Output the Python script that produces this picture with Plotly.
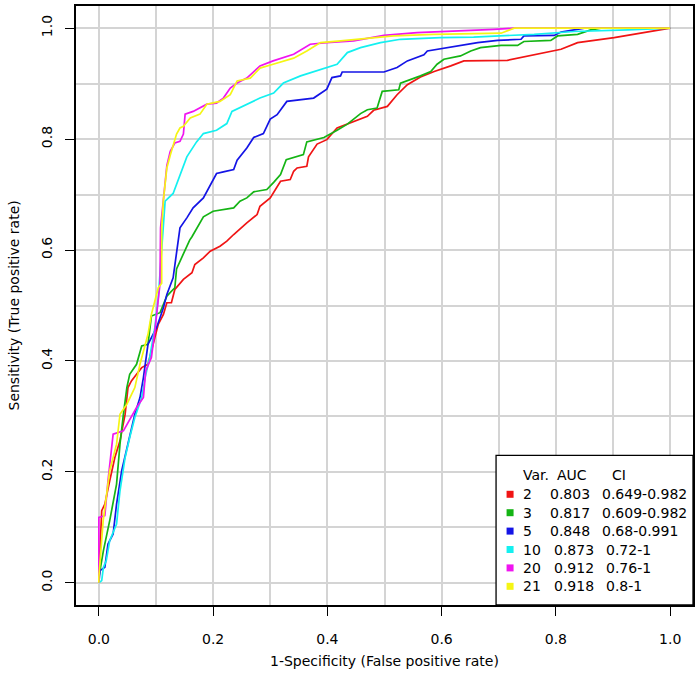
import plotly.graph_objects as go

# ---------------- data ----------------
fpr_2 = [0, 0, 0.005, 0.0105, 0.019, 0.028, 0.037, 0.046, 0.051, 0.057, 0.066, 0.075, 0.086, 0.095,
         0.104, 0.113, 0.119, 0.127, 0.133, 0.148, 0.163, 0.168, 0.183, 0.195, 0.212, 0.224, 0.236,
         0.259, 0.277, 0.282, 0.300, 0.318, 0.335, 0.341, 0.347, 0.364, 0.367, 0.382, 0.399, 0.417,
         0.440, 0.470, 0.481, 0.505, 0.522, 0.540, 0.563, 0.587, 0.616, 0.639, 0.715, 0.762, 0.809,
         0.838, 0.902, 1.0]
tpr_2 = [0, 0.01, 0.130, 0.142, 0.184, 0.226, 0.256, 0.304, 0.352, 0.364, 0.376, 0.388, 0.394, 0.430,
         0.466, 0.484, 0.505, 0.505, 0.529, 0.547, 0.559, 0.574, 0.586, 0.598, 0.607, 0.616, 0.628,
         0.649, 0.664, 0.679, 0.694, 0.724, 0.727, 0.742, 0.748, 0.751, 0.768, 0.791, 0.799, 0.820,
         0.829, 0.841, 0.852, 0.859, 0.880, 0.898, 0.912, 0.922, 0.932, 0.941, 0.942, 0.952, 0.962,
         0.974, 0.983, 1.0]

fpr_3 = [0, 0, 0.008, 0.019, 0.031, 0.037, 0.043, 0.049, 0.054, 0.066, 0.075, 0.086, 0.092, 0.107,
         0.119, 0.133, 0.136, 0.148, 0.159, 0.163, 0.183, 0.200, 0.236, 0.247, 0.259, 0.271, 0.294,
         0.306, 0.318, 0.328, 0.358, 0.364, 0.394, 0.417, 0.435, 0.458, 0.470, 0.487, 0.496, 0.525,
         0.528, 0.563, 0.581, 0.592, 0.604, 0.633, 0.651, 0.668, 0.704, 0.733, 0.744, 0.791, 0.803,
         0.838, 0.861, 0.879, 1.0]
tpr_3 = [0, 0.01, 0.058, 0.112, 0.178, 0.250, 0.304, 0.352, 0.376, 0.394, 0.427, 0.430, 0.481, 0.487,
         0.517, 0.532, 0.566, 0.594, 0.618, 0.624, 0.660, 0.670, 0.676, 0.688, 0.694, 0.705, 0.709,
         0.722, 0.736, 0.763, 0.772, 0.795, 0.803, 0.816, 0.827, 0.846, 0.853, 0.856, 0.886, 0.889,
         0.901, 0.914, 0.922, 0.935, 0.944, 0.950, 0.959, 0.965, 0.969, 0.969, 0.976, 0.978, 0.986,
         0.989, 0.997, 1.0, 1.0]

fpr_5 = [0, 0.002, 0.0105, 0.016, 0.025, 0.031, 0.040, 0.049, 0.057, 0.063, 0.072, 0.078, 0.086, 0.101,
         0.113, 0.119, 0.130, 0.136, 0.142, 0.154, 0.165, 0.183, 0.195, 0.206, 0.218, 0.236, 0.242,
         0.259, 0.271, 0.288, 0.300, 0.312, 0.329, 0.353, 0.376, 0.399, 0.408, 0.423, 0.426, 0.499,
         0.522, 0.540, 0.569, 0.575, 0.610, 0.633, 0.663, 0.698, 0.739, 0.744, 0.797, 0.809, 0.832,
         0.850, 1.0]
tpr_5 = [0, 0.022, 0.028, 0.070, 0.088, 0.142, 0.202, 0.244, 0.280, 0.304, 0.334, 0.370, 0.430, 0.460,
         0.496, 0.520, 0.550, 0.592, 0.640, 0.658, 0.676, 0.694, 0.716, 0.738, 0.741, 0.745, 0.762,
         0.784, 0.803, 0.810, 0.836, 0.844, 0.868, 0.871, 0.874, 0.890, 0.911, 0.914, 0.921, 0.921,
         0.929, 0.941, 0.952, 0.959, 0.965, 0.968, 0.974, 0.978, 0.980, 0.986, 0.987, 0.993, 0.997,
         1.0, 1.0]

fpr_10 = [0, 0.005, 0.008, 0.013, 0.019, 0.031, 0.037, 0.046, 0.054, 0.063, 0.075, 0.081, 0.089, 0.098,
          0.104, 0.110, 0.112, 0.116, 0.130, 0.139, 0.154, 0.171, 0.183, 0.206, 0.224, 0.233, 0.259,
          0.282, 0.306, 0.323, 0.353, 0.388, 0.417, 0.435, 0.458, 0.493, 0.528, 0.598, 0.656, 0.762,
          0.832, 0.926, 1.0]
tpr_10 = [0, 0.004, 0.028, 0.040, 0.076, 0.106, 0.166, 0.226, 0.262, 0.298, 0.334, 0.370, 0.406, 0.460,
          0.514, 0.604, 0.630, 0.688, 0.702, 0.728, 0.768, 0.795, 0.810, 0.816, 0.828, 0.850, 0.862,
          0.874, 0.883, 0.901, 0.914, 0.926, 0.935, 0.956, 0.965, 0.974, 0.980, 0.983, 0.984, 0.989,
          0.994, 0.997, 1.0]

fpr_20 = [0, 0, 0, 0.0105, 0.016, 0.025, 0.043, 0.066, 0.078, 0.082, 0.092, 0.098, 0.107, 0.108, 0.119,
          0.125, 0.133, 0.142, 0.148, 0.151, 0.165, 0.189, 0.206, 0.218, 0.230, 0.242, 0.259, 0.282,
          0.305, 0.341, 0.370, 0.399, 0.446, 0.499, 0.557, 0.692, 0.727, 1.0]
tpr_20 = [0, 0.004, 0.118, 0.121, 0.184, 0.268, 0.274, 0.316, 0.334, 0.382, 0.406, 0.454, 0.539, 0.640,
          0.752, 0.778, 0.793, 0.796, 0.809, 0.845, 0.850, 0.863, 0.865, 0.874, 0.892, 0.901, 0.910,
          0.932, 0.941, 0.953, 0.971, 0.974, 0.977, 0.987, 0.992, 0.998, 1.0, 1.0]

fpr_21 = [0, 0, 0.0076, 0.019, 0.031, 0.037, 0.049, 0.063, 0.072, 0.086, 0.092, 0.104, 0.110, 0.110,
          0.113, 0.119, 0.125, 0.136, 0.142, 0.148, 0.160, 0.177, 0.189, 0.212, 0.230, 0.242, 0.265,
          0.282, 0.305, 0.341, 0.364, 0.388, 0.423, 0.470, 0.516, 0.586, 0.704, 0.727, 1.0]
tpr_21 = [0, 0.01, 0.112, 0.202, 0.250, 0.304, 0.322, 0.352, 0.394, 0.448, 0.484, 0.532, 0.540, 0.640,
          0.690, 0.748, 0.771, 0.809, 0.820, 0.823, 0.838, 0.845, 0.863, 0.868, 0.880, 0.905, 0.910,
          0.928, 0.935, 0.946, 0.959, 0.974, 0.977, 0.981, 0.986, 0.989, 0.991, 1.0, 1.0]

var_labels = ["2", "3", "5", "10", "20", "21"]
auc_labels = ["0.803", "0.817", "0.848", "0.873", "0.912", "0.918"]
ci_labels = ["0.649-0.982", "0.609-0.982", "0.68-0.991", "0.72-1", "0.76-1", "0.8-1"]
header_labels = ["Var.", "AUC", "CI"]

x_title = "1-Specificity (False positive rate)"
y_title = "Sensitivity (True positive rate)"

# ---------------- styling ----------------
colors = ["#F01414", "#14B414", "#1414E6", "#14F0F0", "#F014F0", "#F5F514"]
series = [(fpr_2, tpr_2), (fpr_3, tpr_3), (fpr_5, tpr_5),
          (fpr_10, tpr_10), (fpr_20, tpr_20), (fpr_21, tpr_21)]
FONT = "DejaVu Sans, Liberation Sans, Arial, sans-serif"
FS = 14
GRID = "#D4D4D4"

fig = go.Figure()
for (fx, ty), c, lab in zip(series, colors, var_labels):
    fig.add_trace(go.Scatter(x=fx, y=ty, mode="lines", name=lab,
                             line=dict(color=c, width=1.7), hoverinfo="skip"))

axis_common = dict(
    range=[-0.04, 1.04], tick0=0, dtick=0.2, tickformat=".1f",
    ticks="outside", ticklen=9, tickwidth=1.3, tickcolor="black",
    showline=True, mirror=True, linecolor="black", linewidth=1.5,
    showgrid=True, gridcolor=GRID, gridwidth=1.5, zeroline=False,
    minor=dict(dtick=0.1, showgrid=True, gridcolor=GRID, gridwidth=1.5, ticks=""),
    tickfont=dict(family=FONT, size=FS, color="black"),
    automargin=False,
)

fig.update_layout(
    width=700, height=688,
    margin=dict(l=76, r=7, t=6, b=83),
    paper_bgcolor="white", plot_bgcolor="white",
    showlegend=False,
    font=dict(family=FONT, size=FS, color="black"),
    xaxis=dict(**axis_common, ticklabelstandoff=11),
    yaxis=dict(**axis_common, tickangle=-90, ticklabelstandoff=8),
)

# axis titles
fig.add_annotation(text=x_title, xref="paper", yref="paper", x=0.5, y=(605 - 661) / 599,
                   xanchor="center", yanchor="middle", showarrow=False,
                   font=dict(family=FONT, size=FS, color="black"))
fig.add_annotation(text=y_title, xref="paper", yref="paper", x=(13 - 76) / 617, y=0.5,
                   textangle=-90, xanchor="center", yanchor="middle", showarrow=False,
                   font=dict(family=FONT, size=FS, color="black"))

# ---------------- legend box (bottom right) ----------------
def dx(px):
    return (px - 99) / 571.0

def dy(py):
    return (582.5 - py) / 554.5

fig.add_shape(type="rect", xref="x", yref="y", x0=dx(496), x1=1.04, y0=-0.04, y1=dy(455),
              fillcolor="white", line=dict(color="black", width=1.3), layer="above")

hdr_x = [524, 558, 613]
for t, px in zip(header_labels, hdr_x):
    fig.add_annotation(text=t, xref="x", yref="y", x=dx(px), y=dy(474.5), xanchor="left",
                       yanchor="middle", showarrow=False, xshift=-2, borderpad=0,
                       font=dict(family=FONT, size=FS, color="black"))

row_py = [494, 512.4, 530.8, 549.2, 567.6, 586]
for i, (v, a, ci, c) in enumerate(zip(var_labels, auc_labels, ci_labels, colors)):
    yv = dy(row_py[i])
    wide = len(v) > 1
    fig.add_shape(type="rect", xref="x", yref="y", xsizemode="pixel", ysizemode="pixel",
                  xanchor=dx(510), yanchor=yv, x0=-3.5, x1=3.5, y0=-3.5, y1=3.5,
                  fillcolor=c, line=dict(width=0), layer="above")
    for t, px in zip([v, a, ci], [524, 555 if wide else 551, 606.5 if wide else 603]):
        fig.add_annotation(text=t, xref="x", yref="y", x=dx(px), y=yv, xanchor="left",
                           yanchor="middle", showarrow=False, xshift=-2, borderpad=0,
                           font=dict(family=FONT, size=FS, color="black"))

fig.write_html("out.html", config={"displayModeBar": False},
               post_script="document.body.style.margin='0';document.body.style.padding='0';")
